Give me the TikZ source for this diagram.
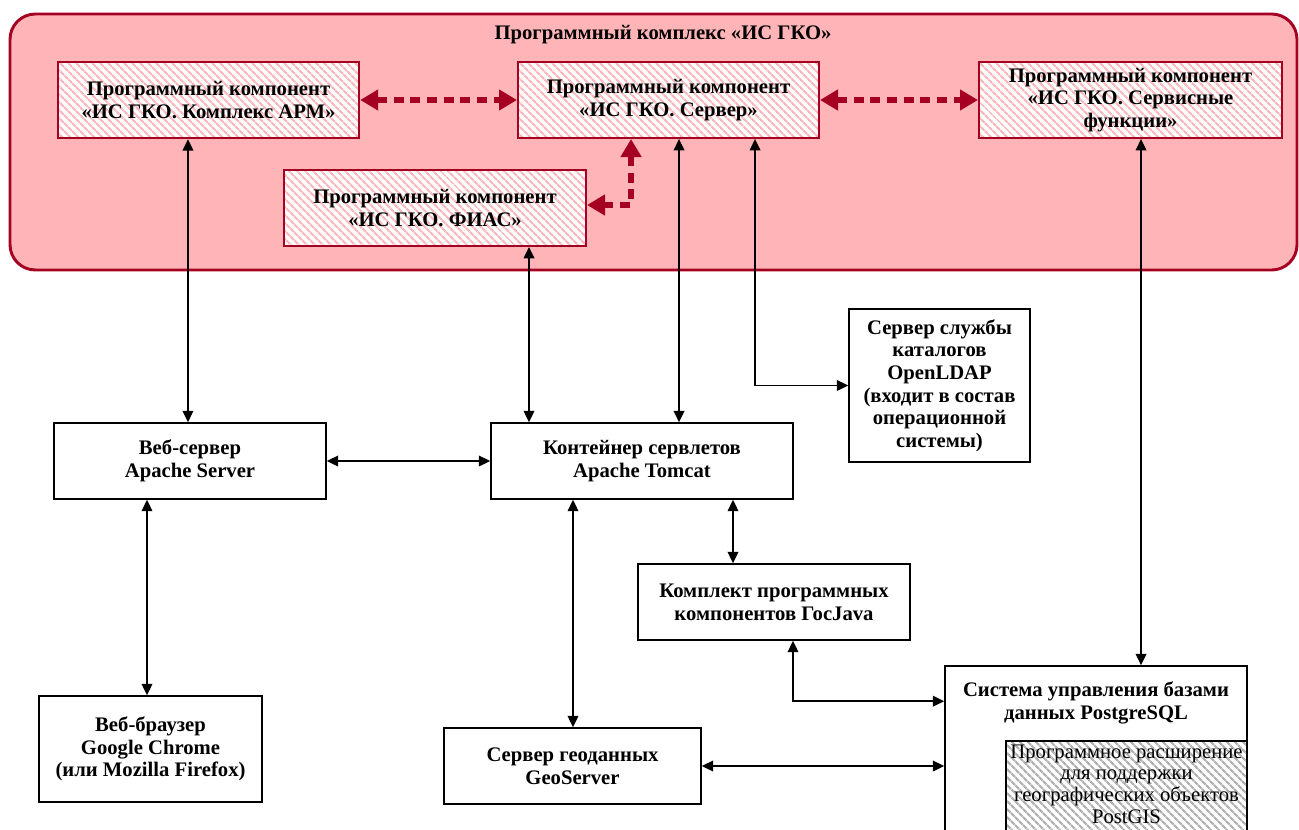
\documentclass[tikz,border=0pt]{standalone}
\usepackage{fontspec}
\setmainfont{Liberation Serif}
\usetikzlibrary{arrows.meta,patterns.meta}
\definecolor{dred}{RGB}{165,0,33}
\definecolor{opink}{RGB}{255,181,183}
\definecolor{spink}{RGB}{248,186,189}
\definecolor{sgray}{RGB}{178,178,178}
\begin{document}
\begin{tikzpicture}[x=0.75pt,y=-0.75pt,
  txt/.style={font=\bfseries\fontsize{15.5}{17}\selectfont, align=center},
  comp/.style={txt, draw=dred, line width=1.5pt, inner sep=0pt,
    preaction={fill=white}, pattern={Lines[angle=-45,distance=4pt,line width=1.8pt]}, pattern color=spink},
  box/.style={txt, draw=black, line width=1.2pt, fill=white, inner sep=0pt},
  arr/.style={draw=black, line width=1.1pt, {Triangle[length=8.5pt,width=8pt]}-{Triangle[length=8.5pt,width=8pt]}},
  rarr/.style={draw=dred, line width=4pt, dash pattern=on 7.5pt off 5pt,
    {Triangle[length=13.5pt,width=15pt]}-{Triangle[length=13.5pt,width=15pt]}}
]
\useasboundingbox (0,0) rectangle (1299,829);
\clip (0,0) rectangle (1299,829);

% outer complex
\draw[draw=dred, fill=opink, line width=2.2pt, rounded corners=19pt] (10,14) rectangle (1297,270);
\node[txt] (title) at (663,35) {Программный комплекс «ИС ГКО»};

% components
\node[comp, minimum width=225.75pt, minimum height=57pt] (arm) at (208.5,100) {Программный компонент\\«ИС ГКО. Комплекс АРМ»};
\node[comp, minimum width=225.75pt, minimum height=57pt] (srv) at (668.5,100) {Программный компонент\\«ИС ГКО. Сервер»};
\node[comp, minimum width=227.25pt, minimum height=57pt] (svc) at (1130.5,100) {Программный компонент\\«ИС ГКО. Сервисные\\функции»};
\node[comp, minimum width=226.5pt, minimum height=57pt] (fias) at (435,208) {Программный компонент\\«ИС ГКО. ФИАС»};

% lower boxes
\node[box, minimum width=204pt, minimum height=57pt] (web) at (190,461) {Веб-сервер\\Apache Server};
\node[box, minimum width=226.5pt, minimum height=57pt] (tom) at (642,461) {Контейнер сервлетов\\Apache Tomcat};
\node[box, minimum width=135.75pt, minimum height=114.75pt] (ldap) at (939.5,385.5) {Сервер службы\\каталогов\\OpenLDAP\\(входит в состав\\операционной\\системы)};
\node[box, minimum width=204pt, minimum height=57pt] (gj) at (774,602) {Комплект программных\\компонентов ГосJava};
\node[box, minimum width=167.25pt, minimum height=79.5pt] (brw) at (150.5,749) {Веб-браузер\\Google Chrome\\(или Mozilla Firefox)};
\node[box, minimum width=192.75pt, minimum height=57pt] (geo) at (572.5,766) {Сервер геоданных\\GeoServer};
\node[box, minimum width=226.5pt, minimum height=130.5pt] (pg) at (1096,753) {};
\node[txt] (pgt) at (1096,703) {Система управления базами\\данных PostgreSQL};
\node[draw=black, line width=1.2pt, inner sep=0pt, minimum width=180.75pt, minimum height=70.5pt,
  preaction={fill=white}, pattern={Lines[angle=-45,distance=4pt,line width=1.8pt]}, pattern color=sgray]
  (gis) at (1126.5,788) {};
\node[align=center, font=\fontsize{15.5}{16.2}\selectfont] (gist) at (1126.5,784) {Программное расширение\\для поддержки\\географических объектов\\PostGIS};

% red dashed links
\draw[rarr] (arm.east) -- (srv.west);
\draw[rarr] (srv.east) -- (svc.west);
\draw[rarr] ([xshift=-28.1pt]srv.south) |- ([yshift=2.25pt]fias.east);

% black links
\draw[arr] ([xshift=-15.4pt]arm.south) -- ([xshift=-15.4pt]arm.south |- web.north);
\draw[arr] ([xshift=-32.25pt]web.south) -- ([xshift=-32.25pt]web.south |- brw.north);
\draw[arr] (web.east) -- (tom.west);
\draw[arr] ([xshift=70.5pt]fias.south) -- ([xshift=70.5pt]fias.south |- tom.north);
\draw[arr] ([xshift=7.9pt]srv.south) -- ([xshift=7.9pt]srv.south |- tom.north);
\draw[arr] ([xshift=64.9pt]srv.south) |- (ldap.west);
\draw[arr] ([xshift=7.9pt]svc.south) -- ([xshift=7.9pt]svc.south |- pg.north);
\draw[arr] ([xshift=68.25pt]tom.south) -- ([xshift=68.25pt]tom.south |- gj.north);
\draw[arr] ([xshift=-51.75pt]tom.south) -- ([xshift=-51.75pt]tom.south |- geo.north);
\draw[arr] ([xshift=14.25pt]gj.south) |- ([yshift=-27pt]pg.north west);
\draw[arr] (geo.east) -- (geo.east -| pg.west);
\end{tikzpicture}
\end{document}
